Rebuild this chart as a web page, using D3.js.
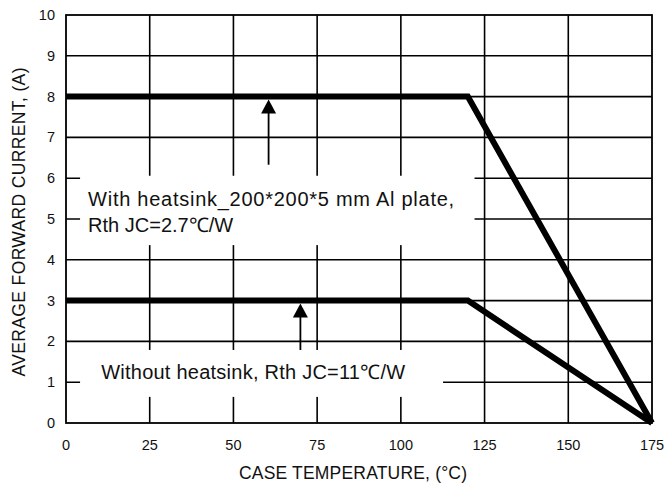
<!DOCTYPE html>
<html>
<head>
<meta charset="utf-8">
<script src="https://cdn.jsdelivr.net/npm/d3@7"></script>
<style>
  body { margin: 0; background: #fff; }
  svg { display: block; font-family: "Liberation Sans", Arial, sans-serif; }
</style>
</head>
<body>
<svg id="chart"></svg>
<script>
// Data
const temps = [0, 120, 175];
const withSink = [8, 8, 0];
const withoutSink = [3, 3, 0];
const xTicks = [0, 25, 50, 75, 100, 125, 150, 175];
const yTicks = [0, 1, 2, 3, 4, 5, 6, 7, 8, 9, 10];

// Annotations (data units)
const arrowX = [60.5, 70];
const arrowTo = [8, 3];
const arrowFrom = [6.33, 1.79];
const boxX0 = [4.2, 4.2];
const boxX1 = [122, 112.6];
const boxY0 = [6.06, 1.79];
const boxY1 = [4.36, 0.64];

// Dimensions
const width = 665;
const height = 489;

const svg = d3.select('#chart')
  .attr('width', width)
  .attr('height', height);

const x = d3.scaleLinear().domain([0, 175]).range([66, 652]);
const y = d3.scaleLinear().domain([0, 10]).range([423, 15]);

// Grid
svg.append('g')
  .selectAll('line')
  .data(xTicks.slice(1, -1))
  .join('line')
  .attr('x1', d => x(d)).attr('x2', d => x(d))
  .attr('y1', y(0)).attr('y2', y(10))
  .attr('stroke', '#000').attr('stroke-width', 1.6);

svg.append('g')
  .selectAll('line')
  .data(yTicks.slice(1, -1))
  .join('line')
  .attr('x1', x(0)).attr('x2', x(175))
  .attr('y1', d => y(d)).attr('y2', d => y(d))
  .attr('stroke', '#000').attr('stroke-width', 1.6);

// Frame
svg.append('rect')
  .attr('x', x(0)).attr('y', y(10))
  .attr('width', x(175) - x(0)).attr('height', y(0) - y(10))
  .attr('fill', 'none')
  .attr('stroke', '#000').attr('stroke-width', 1.8);

// White label boxes
svg.append('g')
  .selectAll('rect')
  .data(boxX0.map((d, i) => i))
  .join('rect')
  .attr('x', i => x(boxX0[i]))
  .attr('y', i => y(boxY0[i]))
  .attr('width', i => x(boxX1[i]) - x(boxX0[i]))
  .attr('height', i => y(boxY1[i]) - y(boxY0[i]))
  .attr('fill', '#fff');

// Curves
const line = d3.line()
  .x(d => x(d[0]))
  .y(d => y(d[1]));

[withSink, withoutSink].forEach(s => {
  svg.append('path')
    .datum(temps.map((t, i) => [t, s[i]]))
    .attr('d', line)
    .attr('fill', 'none')
    .attr('stroke', '#000')
    .attr('stroke-width', 6)
    .attr('stroke-linejoin', 'miter');
});

// Arrows
arrowX.forEach((ax, i) => {
  const px = x(ax);
  const tip = y(arrowTo[i]) + 3;
  svg.append('line')
    .attr('x1', px).attr('x2', px)
    .attr('y1', y(arrowFrom[i])).attr('y2', tip + 12)
    .attr('stroke', '#000').attr('stroke-width', 1.8);
  svg.append('path')
    .attr('d', `M${px},${tip} L${px - 7.5},${tip + 14} L${px + 7.5},${tip + 14} Z`)
    .attr('fill', '#000');
});

// Tick labels
svg.append('g')
  .selectAll('text')
  .data(xTicks)
  .join('text')
  .attr('x', d => x(d))
  .attr('y', 450)
  .attr('text-anchor', 'middle')
  .attr('font-size', '14.5px')
  .attr('fill', '#111')
  .text(d => d);

svg.append('g')
  .selectAll('text')
  .data(yTicks)
  .join('text')
  .attr('x', 55)
  .attr('y', d => y(d) + 5)
  .attr('text-anchor', 'end')
  .attr('font-size', '14.5px')
  .attr('fill', '#111')
  .text(d => d);

// Axis titles
svg.append('text')
  .attr('x', 353)
  .attr('y', 479)
  .attr('text-anchor', 'middle')
  .attr('font-size', '17.5px')
  .attr('fill', '#111')
  .attr('textLength', 228)
  .attr('lengthAdjust', 'spacing')
  .text('CASE TEMPERATURE, (°C)');

svg.append('text')
  .attr('transform', `translate(25, 222) rotate(-90)`)
  .attr('text-anchor', 'middle')
  .attr('font-size', '17.5px')
  .attr('fill', '#111')
  .attr('textLength', 309)
  .attr('lengthAdjust', 'spacing')
  .text('AVERAGE FORWARD CURRENT, (A)');

// Annotation texts
svg.append('text')
  .attr('x', x(6.6))
  .attr('y', 206)
  .attr('font-size', '20px')
  .attr('fill', '#111')
  .attr('textLength', 366)
  .attr('lengthAdjust', 'spacing')
  .text('With heatsink_200*200*5 mm Al plate,');

svg.append('text')
  .attr('x', x(6.6))
  .attr('y', 232)
  .attr('font-size', '20px')
  .attr('fill', '#111')
  .text('Rth JC=2.7℃/W');

svg.append('text')
  .attr('x', x(10.5))
  .attr('y', 379)
  .attr('font-size', '20px')
  .attr('fill', '#111')
  .attr('textLength', 304)
  .attr('lengthAdjust', 'spacing')
  .text('Without heatsink, Rth JC=11℃/W');
</script>
</body>
</html>
